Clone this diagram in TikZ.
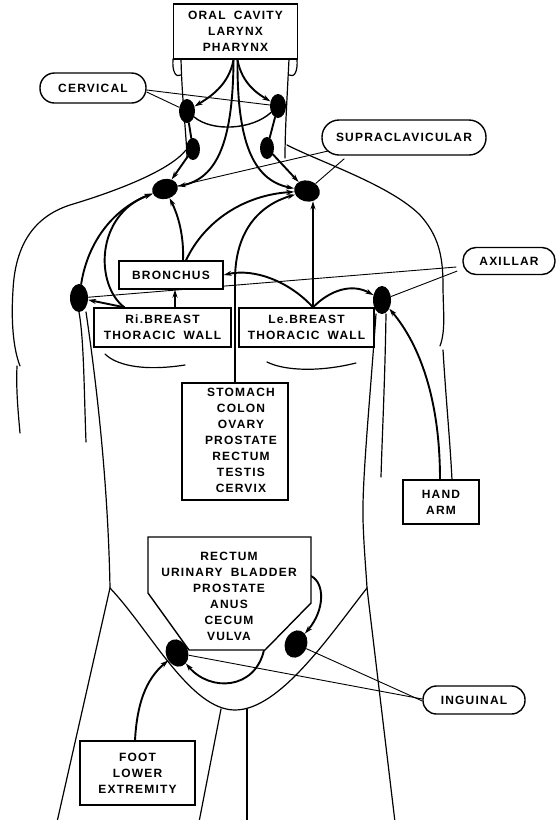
\documentclass[tikz,border=0pt]{standalone}
\usepackage{fontspec}
\newfontfamily\lblfont[LetterSpace=10,WordSpace=1.8]{Liberation Sans}
\usetikzlibrary{shapes.geometric,arrows.meta,calc}
\pgfdeclarelayer{under}
\pgfsetlayers{under,main}

\begin{document}
\begin{tikzpicture}[x=1pt,y=-1pt,
  lbl/.style={font=\lblfont\bfseries\fontsize{12}{16}\selectfont, align=center},
  organ/.style={lbl, draw, line width=1.4pt, fill=white, inner sep=0pt},
  tag/.style={lbl, draw, line width=1.4pt, fill=white, inner sep=0pt},
  lnode/.style={ellipse, fill=black, inner sep=0pt},
  body/.style={line width=1.2pt, line cap=round, line join=round},
  conn/.style={line width=1.9pt, line cap=round},
  arr/.style={conn, -{Stealth[length=8pt,width=5pt]}},
  ptr/.style={line width=0.9pt},
]
\useasboundingbox (0,0) rectangle (558,820);

% ---------- organ boxes ----------
\node[organ, minimum width=124pt, minimum height=55pt] (top) at (235.5,31.5) {ORAL CAVITY\\LARYNX\\PHARYNX};
\node[organ, minimum width=104pt, minimum height=28pt] (bronch) at (171,275) {BRONCHUS};
\node[organ, minimum width=137pt, minimum height=39pt] (rib) at (162.5,327.5) {Ri.BREAST\\THORACIC WALL};
\node[organ, minimum width=135pt, minimum height=39pt] (leb) at (306.5,327.5) {Le.BREAST\\THORACIC WALL};
\node[organ, minimum width=106pt, minimum height=117pt] (stom) at (235,441.5) {};
\node[lbl] (stomtxt) at (241,440.5) {STOMACH\\COLON\\OVARY\\PROSTATE\\RECTUM\\TESTIS\\CERVIX};
\node[organ, minimum width=76pt, minimum height=44pt] (hand) at (441,502) {HAND\\ARM};
\node[organ, minimum width=115pt, minimum height=64pt] (foot) at (137.5,773) {FOOT\\LOWER\\EXTREMITY};
\draw[line width=1.4pt, fill=white] (148,537) -- (311,537) -- (311,603) -- (265,650) -- (189,650) -- (148,593) -- cycle;
\node[lbl] (pelvtxt) at (229,596.5) {RECTUM\\URINARY BLADDER\\PROSTATE\\ANUS\\CECUM\\VULVA};
\coordinate (pelR) at (311,576);
\coordinate (pelB) at (264,650);

% ---------- region labels ----------
\node[tag, minimum width=106pt, minimum height=30pt, rounded corners=14.5pt] (cerv) at (93,88) {CERVICAL};
\node[tag, minimum width=164pt, minimum height=35pt, rounded corners=17pt] (supra) at (404,137.5) {SUPRACLAVICULAR};
\node[tag, minimum width=92pt, minimum height=27pt, rounded corners=13pt] (axil) at (509,261) {AXILLAR};
\node[tag, minimum width=102pt, minimum height=28pt, rounded corners=13.5pt] (ingu) at (474,700) {INGUINAL};

% ---------- lymph nodes ----------
\node[lnode, minimum width=16pt, minimum height=24pt] (cu1) at (187,111) {};
\node[lnode, minimum width=16pt, minimum height=24pt] (cu2) at (278,106) {};
\node[lnode, minimum width=14pt, minimum height=22pt] (cm1) at (193,149) {};
\node[lnode, minimum width=14pt, minimum height=22pt] (cm2) at (267,148) {};
\node[lnode, minimum width=26pt, minimum height=20pt, rotate=15] (sc1) at (165,189) {};
\node[lnode, minimum width=26pt, minimum height=21pt, rotate=-15] (sc2) at (307,191) {};
\node[lnode, minimum width=18pt, minimum height=28pt] (ax1) at (79,298) {};
\node[lnode, minimum width=18pt, minimum height=28pt] (ax2) at (382,300) {};
\node[lnode, minimum width=22pt, minimum height=28pt, rotate=20] (ig1) at (177,653) {};
\node[lnode, minimum width=22pt, minimum height=28pt, rotate=-20] (ig2) at (296,644) {};

\coordinate (ribA) at ([xshift=31pt]rib.north west);
\coordinate (ribB) at ([xshift=12.5pt]rib.north);
\coordinate (lebA) at ([xshift=6.5pt]leb.north);
\coordinate (handA) at ([xshift=-1pt]hand.north);
\coordinate (footA) at ([xshift=-2.5pt]foot.north);

\begin{pgfonlayer}{under}
\fill[white] (0,0) rectangle (558,820);

% ---------- body outline ----------
\draw[body] (173,59) .. controls (172,72) and (176,78) .. (181,75);
\draw[body] (297,59) .. controls (298,72) and (294,78) .. (289,75);
\draw[body] (181,59) .. controls (182,100) and (186,130) .. (187,157);
\draw[body] (289,59) .. controls (287,100) and (285,130) .. (285,158);
% left shoulder and arm
\draw[body] (186,150) .. controls (170,170) and (120,190) .. (70,205)
  .. controls (30,218) and (15,250) .. (13,290)
  .. controls (11,320) and (13,348) .. (20,366);
\draw[body] (17,366) .. controls (16,390) and (18,410) .. (20,433);
\draw[body] (79,312) .. controls (84,340) and (84,390) .. (86,442);
\draw[body] (86,312) .. controls (96,380) and (108,480) .. (110,588);
% right shoulder and arm
\draw[body] (287,145) .. controls (320,162) and (390,185) .. (420,215)
  .. controls (438,235) and (443,255) .. (443,285)
  .. controls (443,310) and (446,330) .. (440,346);
\draw[body] (443,350) .. controls (446,400) and (450,440) .. (452,480);
\draw[body] (386,314) .. controls (385,380) and (382,440) .. (381,477);
\draw[body] (376,314) .. controls (370,400) and (362,480) .. (363,520)
  .. controls (364,550) and (366,570) .. (367,588);
% breasts
\draw[body] (105,354) .. controls (115,364) and (140,372) .. (185,365);
\draw[body] (267,362) .. controls (285,371) and (320,372) .. (356,363);
% pelvis and legs
\draw[body] (110,588) .. controls (150,630) and (190,710) .. (235,710)
  .. controls (280,710) and (330,635) .. (367,588);
\draw[body] (110,588) -- (57,822);
\draw[body] (221,709) -- (199,822);
\draw[body] (247,709) -- (247,822);
\draw[body] (367,588) -- (395,822);

% ---------- drainage paths ----------
\draw[arr] ([xshift=-2pt]top.south) .. controls (229,85) and (210,97) .. (cu1);
\draw[arr] ([xshift=2pt]top.south) .. controls (242,85) and (260,95) .. (cu2);
\draw[arr] ([xshift=-2pt]top.south) .. controls (233,140) and (218,178) .. (sc1);
\draw[arr] ([xshift=2pt]top.south) .. controls (237,140) and (252,180) .. (sc2);
\draw[conn] (cu1) -- (cm1);
\draw[arr] (cm1) -- (sc1);
\draw[conn] (cu2) -- (cm2);
\draw[arr] (cm2) -- (sc2);
\draw[conn, line width=1.4pt] (cu1) .. controls (212,132) and (252,130) .. (cu2);

\draw[arr] ([xshift=12pt]bronch.north) .. controls (184,235) and (178,215) .. (sc1);
\draw[arr] ([xshift=15pt]bronch.north) .. controls (205,220) and (245,195) .. (sc2);
\draw[arr] (stom.north) -- (235,280) .. controls (235,230) and (260,205) .. (sc2);
\draw[arr] (lebA) -- (lebA |- sc2.south);
\draw[arr] (lebA) .. controls (290,282) and (255,268) .. (bronch.east);
\draw[arr] (lebA) .. controls (330,290) and (352,283) .. (ax2);
\draw[arr] (ribB) -- (ribB |- bronch.south);
\draw[arr] (ribA) -- (ax1);
\draw[arr] (ribA) .. controls (95,285) and (95,215) .. (sc1);
\draw[arr] (ax1) .. controls (88,240) and (115,208) .. (sc1);
\draw[arr] (handA) .. controls (440,400) and (420,345) .. (ax2);
\draw[arr] (footA) .. controls (137,705) and (145,680) .. (ig1);
\draw[arr] (pelR) .. controls (325,583) and (325,610) .. (ig2);
\draw[arr] (pelB) .. controls (255,690) and (210,692) .. (ig1);

% ---------- label pointers ----------
\draw[ptr] ([yshift=-4pt]cerv.east) -- (cu1);
\draw[ptr] ([yshift=-2pt]cerv.east) -- (cu2);
\draw[ptr] ($(supra.south west)+(8,-5)$) -- (sc1);
\draw[ptr] ($(supra.south west)+(23,3)$) -- (sc2);
\draw[ptr] ([xshift=-6pt,yshift=-6pt]axil.west) -- (ax1);
\draw[ptr] ([xshift=-5pt,yshift=-10pt]axil.west) -- (ax2);
\draw[ptr] ([yshift=1pt]ingu.west) -- (ig1);
\draw[ptr] ([yshift=-1pt]ingu.west) -- (ig2);
\end{pgfonlayer}
\end{tikzpicture}
\end{document}
